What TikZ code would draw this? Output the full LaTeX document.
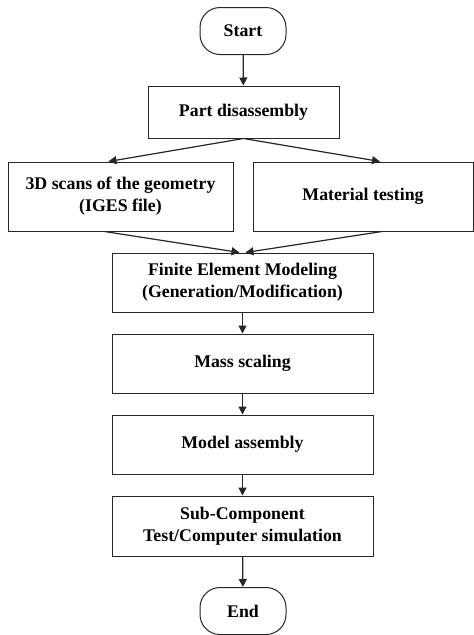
\documentclass[tikz,border=0pt]{standalone}
\usepackage{fontspec}
\setmainfont{Liberation Serif}
\usepackage{tikz}
\usetikzlibrary{calc, positioning, arrows.meta}
\tikzset{
    process/.style={rectangle, draw=black!85, line width=1pt, fill=white, align=center, inner sep=0pt, font=\fontsize{17.8}{22}\selectfont\bfseries},
    term/.style={rectangle, draw=black!85, line width=1pt, fill=white, rounded corners=20pt, inner sep=0pt, minimum width=86pt, minimum height=47pt, font=\fontsize{17.8}{22}\selectfont\bfseries},
    arrow/.style={-{Triangle[length=8pt,width=8pt]}, line width=1.2pt, black!85}
}

\begin{document}
\begin{tikzpicture}[x=1pt, y=-1pt]
    \useasboundingbox (0,0) rectangle (474,635);

    % Terminals
    \node[term] (start) at (243,31) {Start};
    \node[term] (end) at (243,611) {End};

    % Steps
    \node[process, minimum width=191pt, minimum height=52pt] (part) at (243.5,112) {Part disassembly};
    \node[process, minimum width=225pt, minimum height=69pt] (scan) at (120.5,196.5) {3D scans of the geometry\\(IGES file)};
    \node[process, minimum width=220pt, minimum height=69pt] (mat) at (363,196.5) {Material testing};
    \node[process, minimum width=261pt, minimum height=59pt] (fem) at (242.5,282.5) {Finite Element Modeling\\(Generation/Modification)};
    \node[process, minimum width=261pt, minimum height=59pt] (mass) at (242.5,363.5) {Mass scaling};
    \node[process, minimum width=261pt, minimum height=59pt] (model) at (242.5,444.5) {Model assembly};
    \node[process, minimum width=261pt, minimum height=60pt] (sub) at (242.5,526) {Sub-Component\\Test/Computer simulation};

    % Connectors
    \draw[arrow] (start) -- (part);
    \draw[arrow] (part.south) -- ([xshift=-12pt]scan.north);
    \draw[arrow] (part.south) -- ([xshift=17pt]mat.north);
    \draw[arrow] ([xshift=-16pt]scan.south) -- ([xshift=-3pt]fem.north);
    \draw[arrow] ([xshift=19pt]mat.south) -- ([xshift=3pt]fem.north);
    \draw[arrow] (fem) -- (mass);
    \draw[arrow] (mass) -- (model);
    \draw[arrow] (model) -- (sub);
    \draw[arrow] (sub) -- (end);
\end{tikzpicture}
\end{document}
